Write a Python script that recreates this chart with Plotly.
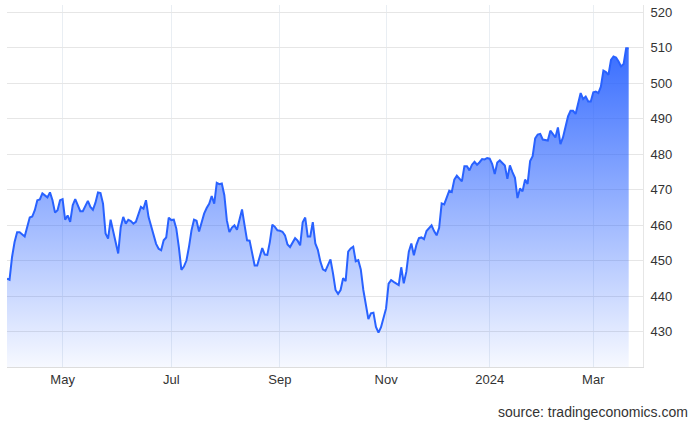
import plotly.graph_objects as go

dates = [
    "2023-03-29", "2023-03-30", "2023-03-31", "2023-04-03", "2023-04-04", "2023-04-05",
    "2023-04-10", "2023-04-11", "2023-04-12", "2023-04-13", "2023-04-14", "2023-04-17",
    "2023-04-18", "2023-04-19", "2023-04-20", "2023-04-21", "2023-04-24", "2023-04-25",
    "2023-04-26", "2023-04-27", "2023-04-28",
    "2023-05-01", "2023-05-02", "2023-05-03", "2023-05-04", "2023-05-05", "2023-05-08",
    "2023-05-09", "2023-05-10", "2023-05-11", "2023-05-15", "2023-05-16", "2023-05-17",
    "2023-05-18", "2023-05-19", "2023-05-22", "2023-05-23", "2023-05-24", "2023-05-25",
    "2023-05-26", "2023-05-30", "2023-05-31",
    "2023-06-01", "2023-06-02", "2023-06-05", "2023-06-06", "2023-06-07", "2023-06-08",
    "2023-06-09", "2023-06-12", "2023-06-13", "2023-06-14", "2023-06-15", "2023-06-16",
    "2023-06-20", "2023-06-21", "2023-06-22", "2023-06-23", "2023-06-26", "2023-06-27",
    "2023-06-28", "2023-06-29", "2023-06-30",
    "2023-07-03", "2023-07-05", "2023-07-06", "2023-07-07", "2023-07-10", "2023-07-11",
    "2023-07-12", "2023-07-13", "2023-07-14", "2023-07-17", "2023-07-18", "2023-07-19",
    "2023-07-20", "2023-07-21", "2023-07-24", "2023-07-25", "2023-07-26", "2023-07-27",
    "2023-07-28", "2023-07-31",
    "2023-08-01", "2023-08-02", "2023-08-03", "2023-08-04", "2023-08-07", "2023-08-08",
    "2023-08-09", "2023-08-10", "2023-08-11", "2023-08-14", "2023-08-15", "2023-08-16",
    "2023-08-17", "2023-08-18", "2023-08-21", "2023-08-22", "2023-08-23", "2023-08-24",
    "2023-08-25", "2023-08-28", "2023-08-29", "2023-08-30", "2023-08-31",
    "2023-09-01", "2023-09-05", "2023-09-06", "2023-09-07", "2023-09-08", "2023-09-11",
    "2023-09-12", "2023-09-13", "2023-09-14", "2023-09-15", "2023-09-18", "2023-09-19",
    "2023-09-20", "2023-09-21", "2023-09-22", "2023-09-25", "2023-09-26", "2023-09-27",
    "2023-09-28", "2023-09-29",
    "2023-10-02", "2023-10-03", "2023-10-04", "2023-10-05", "2023-10-06", "2023-10-09",
    "2023-10-10", "2023-10-11", "2023-10-12", "2023-10-13", "2023-10-16", "2023-10-17",
    "2023-10-18", "2023-10-19", "2023-10-20", "2023-10-23", "2023-10-24", "2023-10-25",
    "2023-10-26", "2023-10-27", "2023-10-30", "2023-10-31",
    "2023-11-01", "2023-11-02", "2023-11-03", "2023-11-06", "2023-11-07", "2023-11-08",
    "2023-11-09", "2023-11-10", "2023-11-13", "2023-11-14", "2023-11-15", "2023-11-16",
    "2023-11-17", "2023-11-20", "2023-11-21", "2023-11-22", "2023-11-24", "2023-11-28",
    "2023-11-29", "2023-11-30",
    "2023-12-01", "2023-12-04", "2023-12-05", "2023-12-06", "2023-12-07", "2023-12-08",
    "2023-12-11", "2023-12-12", "2023-12-13", "2023-12-14", "2023-12-15", "2023-12-18",
    "2023-12-19", "2023-12-20", "2023-12-21", "2023-12-22", "2023-12-26", "2023-12-27",
    "2023-12-28", "2023-12-29",
    "2024-01-02", "2024-01-03", "2024-01-04", "2024-01-05", "2024-01-08", "2024-01-09",
    "2024-01-10", "2024-01-11", "2024-01-12", "2024-01-16", "2024-01-17", "2024-01-18",
    "2024-01-19", "2024-01-22", "2024-01-23", "2024-01-24", "2024-01-25", "2024-01-26",
    "2024-01-29", "2024-01-30", "2024-01-31",
    "2024-02-01", "2024-02-02", "2024-02-05", "2024-02-06", "2024-02-07", "2024-02-08",
    "2024-02-09", "2024-02-12", "2024-02-13", "2024-02-14", "2024-02-15", "2024-02-16",
    "2024-02-20", "2024-02-21", "2024-02-22", "2024-02-23", "2024-02-26", "2024-02-27",
    "2024-02-28", "2024-02-29",
    "2024-03-01", "2024-03-04", "2024-03-05", "2024-03-06", "2024-03-07", "2024-03-08",
    "2024-03-11", "2024-03-12", "2024-03-13", "2024-03-14", "2024-03-15", "2024-03-18",
    "2024-03-19", "2024-03-20", "2024-03-21",
]

values = [
    444.9, 444.6, 451.0, 455.2, 458.0, 458.0,
    456.8, 459.4, 462.1, 462.4, 464.2, 467.0,
    467.2, 468.9, 468.3, 467.8, 469.2, 467.0,
    463.5, 464.2, 467.0,
    467.3, 461.5, 462.7, 460.9, 465.6, 467.3,
    465.6, 463.9, 463.9, 466.8, 465.1, 464.3,
    466.3, 469.2, 469.0, 466.0, 457.6, 456.2,
    461.5, 458.5, 455.2,
    452.0, 459.4, 462.3, 460.4, 461.5, 461.1,
    460.4, 460.9, 463.2, 465.1, 464.6, 467.0,
    462.3, 459.9, 457.1, 454.7, 453.3, 452.9,
    455.7, 456.5, 462.1,
    461.4, 461.5, 459.0, 453.8, 447.4, 448.3,
    450.0, 453.8, 458.5, 461.5, 461.2, 458.2,
    460.6, 463.2, 464.8, 466.0, 468.2, 466.0,
    471.9, 471.5,
    471.7, 468.4, 461.3, 458.0, 459.3, 459.9,
    458.7, 461.3, 464.4, 460.0, 455.7, 455.6,
    451.9, 448.6, 448.6, 451.2, 453.5, 451.7,
    451.6, 455.2, 460.1, 459.5, 458.5,
    458.4, 458.1, 457.1, 454.5, 453.8, 454.9,
    456.3, 455.6, 454.3, 460.8, 462.1, 456.8,
    456.8, 460.8, 454.8, 453.0, 449.7, 447.5,
    447.1, 448.7,
    450.3, 446.4, 441.7, 440.6, 441.7, 445.0,
    444.2, 452.5, 453.4, 453.9, 449.8, 450.1,
    447.5, 441.7, 437.9, 433.5, 435.1, 435.3,
    431.3, 429.7, 431.2, 433.7,
    436.5, 443.5, 444.5, 444.0, 443.6, 443.1,
    448.1, 443.6, 446.8, 452.5, 454.8, 451.5,
    454.4, 456.3, 456.5, 456.0, 458.3, 459.9,
    458.3, 457.1,
    459.2, 466.1, 465.8, 468.1, 469.7, 469.3,
    472.8, 473.9, 473.0, 472.3, 476.6, 476.6,
    475.4, 477.0, 477.8, 477.0, 477.7, 478.6,
    478.5, 478.9,
    478.7, 477.2, 474.4, 477.6, 478.2, 477.6,
    476.8, 473.0, 476.8, 474.9, 473.3, 467.6,
    470.3, 469.5, 472.8, 471.6, 478.0, 479.4,
    484.4, 485.5, 485.7,
    484.1, 484.0, 483.8, 486.6, 485.6, 484.7,
    487.5, 482.8, 484.7, 487.8, 490.6, 492.2,
    492.2, 491.3, 494.4, 497.2, 495.5, 496.2,
    494.8, 494.8,
    497.4, 497.6, 497.2, 499.0, 503.5, 503.1,
    502.3, 506.5, 507.5, 507.2, 506.1, 504.7,
    505.4, 509.8, 509.8,
]

market_holidays = [
    "2023-04-07", "2023-05-29", "2023-06-19", "2023-07-04", "2023-09-04",
    "2023-11-23", "2023-12-25", "2024-01-01", "2024-01-15", "2024-02-19",
    "2024-03-29",
]

tick_dates = ["2023-05-01", "2023-07-03", "2023-09-01", "2023-11-01", "2024-01-02", "2024-03-01"]
tick_labels = ["May", "Jul", "Sep", "Nov", "2024", "Mar"]
y_ticks = [430, 440, 450, 460, 470, 480, 490, 500, 510, 520]

fig = go.Figure()
fig.add_trace(go.Scatter(
    x=dates, y=values,
    mode="lines",
    line=dict(color="#2962ff", width=2),
    fill="tozeroy",
    fillgradient=dict(
        type="vertical",
        start=420, stop=512,
        colorscale=[[0, "rgba(41,98,255,0.04)"], [1, "rgba(41,98,255,0.95)"]],
    ),
    hoverinfo="skip",
))

fig.update_layout(
    width=700, height=424,
    margin=dict(l=7, r=57, t=5, b=57, autoexpand=False),
    paper_bgcolor="white", plot_bgcolor="white",
    showlegend=False,
    font=dict(family="Liberation Sans, Arial, sans-serif", size=13, color="#333333"),
    xaxis=dict(
        type="date",
        range=["2023-03-29", "2024-03-28 16:00"],
        rangebreaks=[dict(bounds=["sat", "mon"]), dict(values=market_holidays)],
        tickvals=tick_dates, ticktext=tick_labels,
        showgrid=True, gridcolor="#e9eef3", gridwidth=1,
        showline=True, linecolor="#dddddd", linewidth=1,
        zeroline=False, ticks="", automargin=False,
        tickfont=dict(size=13, color="#333333"),
    ),
    yaxis=dict(
        side="right",
        range=[420, 522],
        tickvals=y_ticks,
        showgrid=True, gridcolor="#e6e6e6", gridwidth=1,
        showline=True, linecolor="#e6e6e6", linewidth=1,
        zeroline=False, ticks="", automargin=False,
        ticklabelstandoff=4,
        tickfont=dict(size=13, color="#333333"),
    ),
    annotations=[dict(
        text="source: tradingeconomics.com",
        xref="paper", yref="paper",
        x=1.074, y=-0.124,
        xanchor="right", yanchor="middle",
        showarrow=False,
        font=dict(size=14, color="#333333"),
    )],
)

fig.write_html(
    "out.html",
    config={"displayModeBar": False},
    post_script="document.body.style.margin='0px'; document.body.style.overflow='hidden';",
)
